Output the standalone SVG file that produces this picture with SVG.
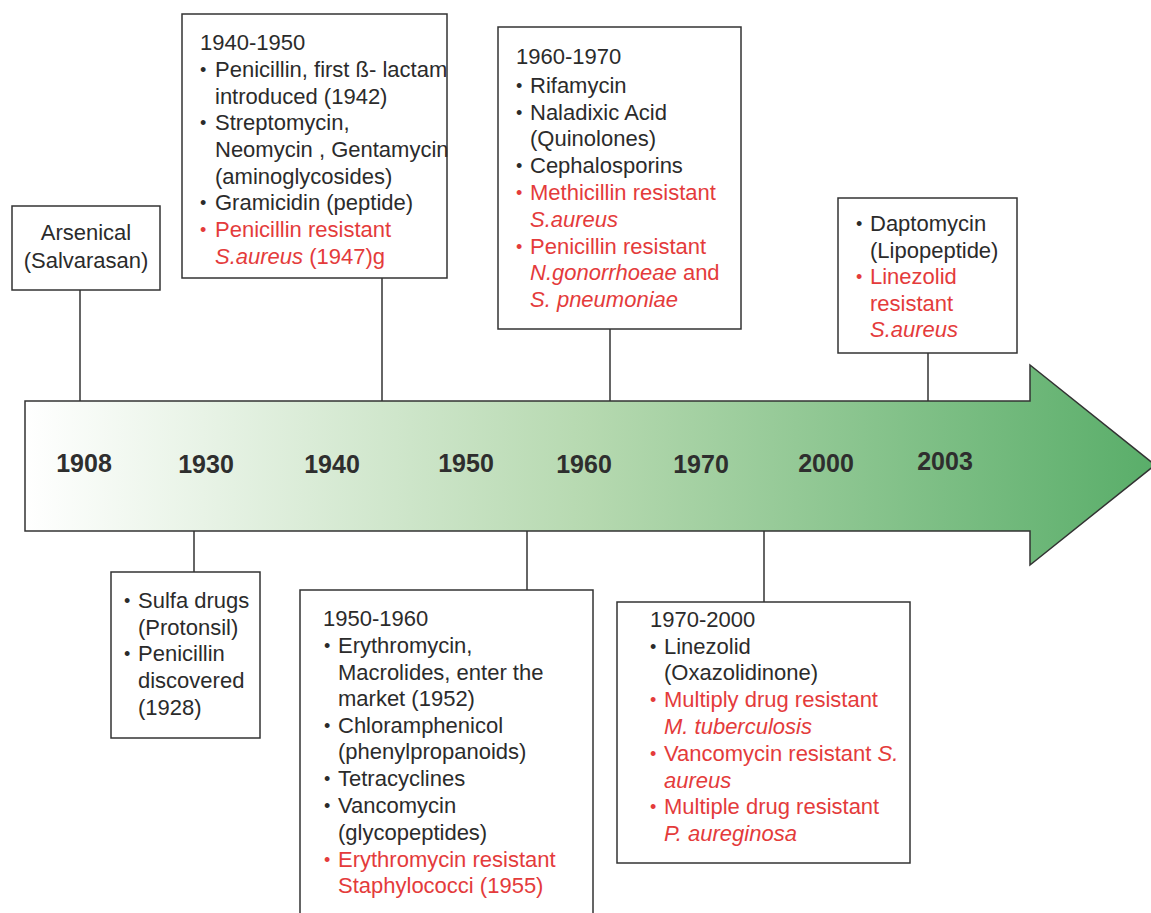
<svg xmlns="http://www.w3.org/2000/svg" width="1151" height="913" viewBox="0 0 1151 913">
<defs>
<linearGradient id="g" x1="25" y1="0" x2="1151" y2="0" gradientUnits="userSpaceOnUse">
<stop offset="0" stop-color="#ffffff"/>
<stop offset="0.5" stop-color="#b6d9b0"/>
<stop offset="1" stop-color="#5aae6a"/>
</linearGradient>
<style>
.box{fill:#fff;stroke:#333;stroke-width:1.5}
.ln{stroke:#333;stroke-width:1.5;fill:none}
.t{font-family:"Liberation Sans",Arial,sans-serif;font-size:22px;fill:#2b2b2b}
.b{font-size:18px}
.r{fill:#e43b3b}
.i{font-style:italic}
.yr{font-family:"Liberation Sans",Arial,sans-serif;font-size:25px;font-weight:bold;fill:#2e2e2e;text-anchor:middle}
</style>
</defs>
<g id="timeline">
<path d="M25,401 L1030,401 L1030,365 L1155,465 L1030,565 L1030,531 L25,531 Z" fill="url(#g)" stroke="#333" stroke-width="1.5"/>
<text class="yr" x="84" y="472">1908</text>
<text class="yr" x="206" y="473">1930</text>
<text class="yr" x="332" y="473">1940</text>
<text class="yr" x="466" y="472">1950</text>
<text class="yr" x="584" y="473">1960</text>
<text class="yr" x="701" y="473">1970</text>
<text class="yr" x="826" y="472">2000</text>
<text class="yr" x="945" y="470">2003</text>
</g>
<g id="connectors">
<line class="ln" x1="80" y1="290" x2="80" y2="401"/>
<line class="ln" x1="382" y1="278" x2="382" y2="401"/>
<line class="ln" x1="610" y1="329" x2="610" y2="401"/>
<line class="ln" x1="928" y1="353" x2="928" y2="401"/>
<line class="ln" x1="194" y1="531" x2="194" y2="572"/>
<line class="ln" x1="527" y1="531" x2="527" y2="590"/>
<line class="ln" x1="764" y1="531" x2="764" y2="602"/>
</g>
<g id="n1908">
<rect class="box" x="12" y="206" width="148" height="84"/>
<text class="t" x="86" y="240" text-anchor="middle">Arsenical</text>
<text class="t" x="86" y="268" text-anchor="middle">(Salvarasan)</text>
</g>
<g id="n1940">
<rect class="box" x="182" y="14" width="265" height="264"/>
<text class="t" x="200" y="50">1940-1950</text>
<text class="t b" x="200" y="76">•</text><text class="t" x="215" y="77">Penicillin, first ß- lactam</text>
<text class="t" x="215" y="104">introduced (1942)</text>
<text class="t b" x="200" y="129">•</text><text class="t" x="215" y="130">Streptomycin,</text>
<text class="t" x="215" y="157">Neomycin , Gentamycin</text>
<text class="t" x="215" y="184">(aminoglycosides)</text>
<text class="t b" x="200" y="209">•</text><text class="t" x="215" y="210">Gramicidin (peptide)</text>
<text class="t b r" x="200" y="236">•</text><text class="t r" x="215" y="237">Penicillin resistant</text>
<text class="t r" x="215" y="264"><tspan class="i">S.aureus</tspan> (1947)g</text>
</g>
<g id="n1960">
<rect class="box" x="498" y="27" width="243" height="302"/>
<text class="t" x="516" y="64">1960-1970</text>
<text class="t b" x="516" y="92">•</text><text class="t" x="530" y="93">Rifamycin</text>
<text class="t b" x="516" y="119">•</text><text class="t" x="530" y="120">Naladixic Acid</text>
<text class="t" x="530" y="146">(Quinolones)</text>
<text class="t b" x="516" y="172">•</text><text class="t" x="530" y="173">Cephalosporins</text>
<text class="t b r" x="516" y="199">•</text><text class="t r" x="530" y="200">Methicillin resistant</text>
<text class="t r i" x="530" y="227">S.aureus</text>
<text class="t b r" x="516" y="253">•</text><text class="t r" x="530" y="254">Penicillin resistant</text>
<text class="t r" x="530" y="280"><tspan class="i">N.gonorrhoeae</tspan> and</text>
<text class="t r i" x="530" y="307">S. pneumoniae</text>
</g>
<g id="n2003">
<rect class="box" x="838" y="198" width="179" height="155"/>
<text class="t b" x="856" y="230">•</text><text class="t" x="870" y="231">Daptomycin</text>
<text class="t" x="870" y="258">(Lipopeptide)</text>
<text class="t b r" x="856" y="283">•</text><text class="t r" x="870" y="284">Linezolid</text>
<text class="t r" x="870" y="311">resistant</text>
<text class="t r i" x="870" y="337">S.aureus</text>
</g>
<g id="n1930">
<rect class="box" x="111" y="572" width="149" height="166"/>
<text class="t b" x="124" y="607">•</text><text class="t" x="138" y="608">Sulfa drugs</text>
<text class="t" x="138" y="635">(Protonsil)</text>
<text class="t b" x="124" y="660">•</text><text class="t" x="138" y="661">Penicillin</text>
<text class="t" x="138" y="688">discovered</text>
<text class="t" x="138" y="715">(1928)</text>
</g>
<g id="n1950">
<rect class="box" x="300" y="590" width="293" height="330"/>
<text class="t" x="323" y="626">1950-1960</text>
<text class="t b" x="324" y="652">•</text><text class="t" x="338" y="653">Erythromycin,</text>
<text class="t" x="338" y="680">Macrolides, enter the</text>
<text class="t" x="338" y="706">market (1952)</text>
<text class="t b" x="324" y="732">•</text><text class="t" x="338" y="733">Chloramphenicol</text>
<text class="t" x="338" y="759">(phenylpropanoids)</text>
<text class="t b" x="324" y="785">•</text><text class="t" x="338" y="786">Tetracyclines</text>
<text class="t b" x="324" y="812">•</text><text class="t" x="338" y="813">Vancomycin</text>
<text class="t" x="338" y="840">(glycopeptides)</text>
<text class="t b r" x="324" y="866">•</text><text class="t r" x="338" y="867">Erythromycin resistant</text>
<text class="t r" x="338" y="893">Staphylococci (1955)</text>
</g>
<g id="n1970">
<rect class="box" x="617" y="602" width="293" height="261"/>
<text class="t" x="650" y="627">1970-2000</text>
<text class="t b" x="650" y="653">•</text><text class="t" x="664" y="654">Linezolid</text>
<text class="t" x="664" y="680">(Oxazolidinone)</text>
<text class="t b r" x="650" y="706">•</text><text class="t r" x="664" y="707">Multiply drug resistant</text>
<text class="t r i" x="664" y="734">M. tuberculosis</text>
<text class="t b r" x="650" y="760">•</text><text class="t r" x="664" y="761">Vancomycin resistant <tspan class="i">S.</tspan></text>
<text class="t r i" x="664" y="788">aureus</text>
<text class="t b r" x="650" y="813">•</text><text class="t r" x="664" y="814">Multiple drug resistant</text>
<text class="t r i" x="664" y="841">P. aureginosa</text>
</g>
</svg>
